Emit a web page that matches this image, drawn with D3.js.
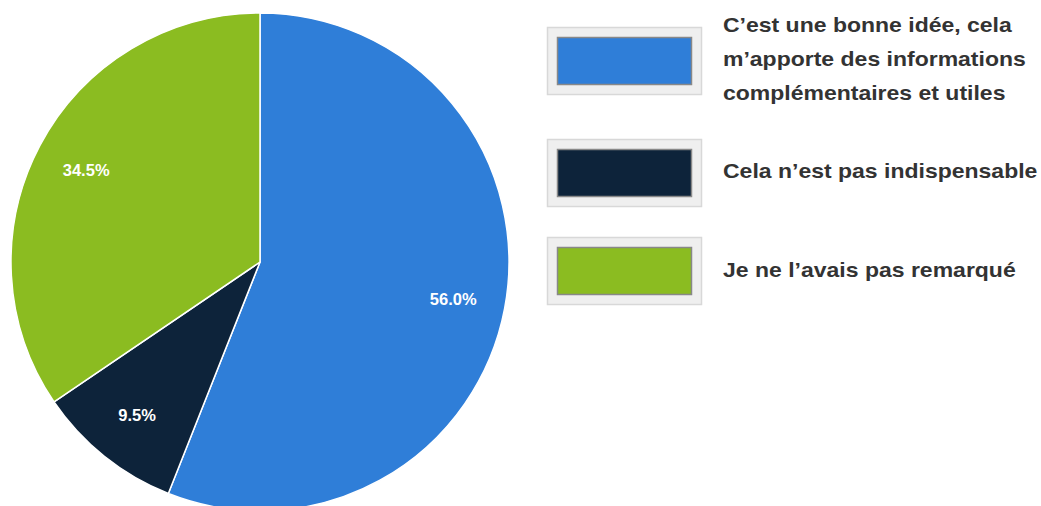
<!DOCTYPE html>
<html>
<head>
<meta charset="utf-8">
<script src="https://cdn.jsdelivr.net/npm/d3@7"></script>
<style>
  body { margin: 0; background: #fff; }
  svg { display: block; }
  .slice_label { font-family: "Liberation Sans", Arial, sans-serif; font-weight: bold; fill: #fff; }
  .legend_text { font-family: "Liberation Sans", Arial, sans-serif; font-weight: bold; fill: #333; }
</style>
</head>
<body>
<div class="chart"></div>
<script>
(function(){

  var width = 1041, height = 506

  // data
  var categories = [
    "C’est une bonne idée, cela m’apporte des informations complémentaires et utiles",
    "Cela n’est pas indispensable",
    "Je ne l’avais pas remarqué"
  ]
  var legendLines = [
    ["C’est une bonne idée, cela", "m’apporte des informations", "complémentaires et utiles"],
    ["Cela n’est pas indispensable"],
    ["Je ne l’avais pas remarqué"]
  ]
  var values = [56.0, 9.5, 34.5]
  var colors = ["#2f7ed8", "#0d233a", "#8bbc21"]

  var cx = 260, cy = 262, radius = 249

  var svg = d3.select(".chart").append("svg")
        .attr("width", width)
        .attr("height", height)

  var data = categories.map(function(c, i){ return { name: c, value: values[i], lines: legendLines[i] } })

  var pie = d3.pie()
        .value(function(d){ return d.value })
        .sort(null)

  var arc = d3.arc().innerRadius(0).outerRadius(radius)
  var labelArc = d3.arc().innerRadius(radius * 0.79).outerRadius(radius * 0.79)

  var colorScale = d3.scaleOrdinal().domain(categories).range(colors)

  var g = svg.append("g")
        .attr("transform", "translate(" + cx + "," + cy + ")")

  g.selectAll("path")
    .data(pie(data))
    .enter().append("path")
    .attr("d", arc)
    .style("fill", function(d){ return colorScale(d.data.name) })
    .style("stroke", "#fff")
    .style("stroke-width", 1.5)
    .style("stroke-linejoin", "round")

  g.selectAll(".slice_label")
    .data(pie(data))
    .enter().append("text")
    .attr("class", "slice_label")
    .attr("transform", function(d){ return "translate(" + labelArc.centroid(d) + ")" })
    .attr("text-anchor", "middle")
    .attr("dy", "0.35em")
    .style("font-size", "16.5px")
    .text(function(d){ return d.data.value.toFixed(1) + "%" })

  // legend
  var boxTops = [27, 139, 237]
  var firstBaselines = [32, 178, 277]
  var lineStep = 34

  var legend = svg.selectAll(".legend")
    .data(data)
    .enter().append("g")
    .attr("class", "legend")

  legend.append("rect")
    .attr("x", 547.5)
    .attr("y", function(d, i){ return boxTops[i] + 0.5 })
    .attr("width", 154)
    .attr("height", 67)
    .style("fill", "#efefef")
    .style("stroke", "#d8d8d8")
    .style("stroke-width", 1.5)

  legend.append("rect")
    .attr("x", 557.5)
    .attr("y", function(d, i){ return boxTops[i] + 10.5 })
    .attr("width", 134)
    .attr("height", 47)
    .style("fill", function(d){ return colorScale(d.name) })
    .style("stroke", "#888")
    .style("stroke-width", 1.5)

  // the legend type is drawn a bit wide in the original
  legend.each(function(d, i){
    var t = d3.select(this).append("text")
      .attr("class", "legend_text")
      .attr("transform", "translate(723,0) scale(1.15,1)")
      .style("font-size", "20px")
    d.lines.forEach(function(line, j){
      t.append("tspan")
        .attr("x", 0)
        .attr("y", firstBaselines[i] + j * lineStep)
        .text(line)
    })
  })

})()
</script>
</body>
</html>
